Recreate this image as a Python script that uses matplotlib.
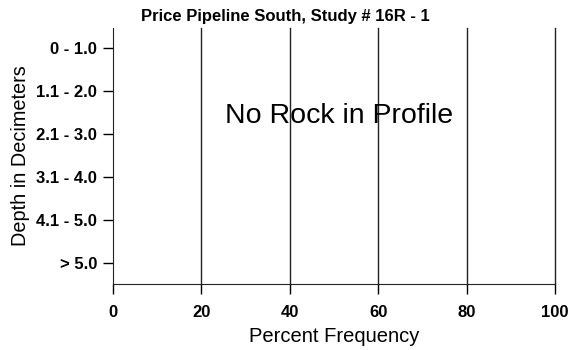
import matplotlib
matplotlib.use('Agg')
import matplotlib.pyplot as plt

# depth classes and percent frequency of rock (none found)
depth_classes = ['0 - 1.0', '1.1 - 2.0', '2.1 - 3.0', '3.1 - 4.0', '4.1 - 5.0', '> 5.0']
rock_freq = [0, 0, 0, 0, 0, 0]
x_ticks = [0, 20, 40, 60, 80, 100]

plt.rcParams['font.family'] = ['Liberation Sans', 'DejaVu Sans']

fig = plt.figure(figsize=(5.71, 3.5), dpi=100)
ax = fig.add_axes([0.198, 0.189, 0.774, 0.731])

ypos = list(range(len(depth_classes)))
ax.barh(ypos, rock_freq, color='black', height=0.6)

ax.set_xlim(0, 100)
ax.set_ylim(5.49, -0.47)
ax.set_yticks(ypos)
ax.set_yticklabels(depth_classes, fontsize=12, fontweight='bold')
ax.set_xticks(x_ticks)
ax.set_xticklabels([str(t) for t in x_ticks], fontsize=12, fontweight='bold')
ax.tick_params(direction='out', length=7.5, width=1, color='black', pad=4)
ax.tick_params(axis='x', pad=8)

# vertical gridlines (the one at 100 closes the plot on the right)
for t in x_ticks[1:]:
    ax.axvline(t, color='#222222', linewidth=1, clip_on=False)

for side in ['top', 'right']:
    ax.spines[side].set_visible(False)
for side in ['left', 'bottom']:
    ax.spines[side].set_color('#222222')

ax.set_xlabel('Percent Frequency', fontsize=14.5, labelpad=5)
ax.set_ylabel('Depth in Decimeters', fontsize=14.3, labelpad=4.5)
# title is centred on the whole figure, not the axes
fig.text(0.5, 1 - 17 / 350, 'Price Pipeline South, Study # 16R - 1',
         ha='center', va='center', fontsize=12, fontweight='bold')

ax.text(0.511, 0.656, 'No Rock in Profile', transform=ax.transAxes,
        ha='center', va='center', fontsize=20.5)

fig.savefig('out.png', dpi=100)
